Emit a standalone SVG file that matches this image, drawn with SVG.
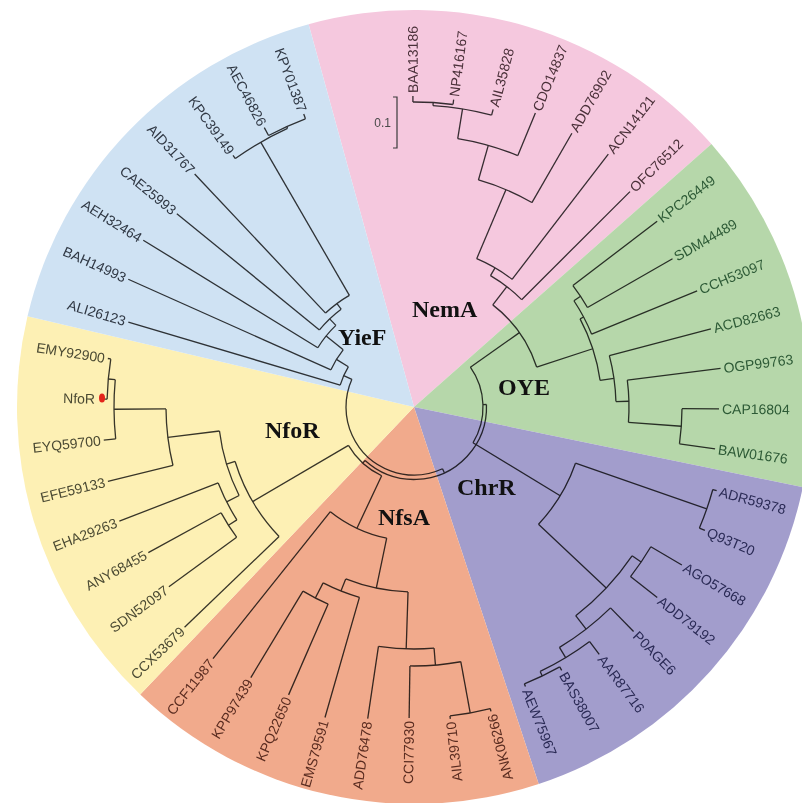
<svg xmlns="http://www.w3.org/2000/svg" width="802" height="803" viewBox="0 0 802 803">
<style>
.tree line,.tree circle{fill:none;stroke:#383838;stroke-width:1.3}
.tree{mix-blend-mode:multiply}
.lab text{font-family:"Liberation Sans",Arial,sans-serif;font-size:14px;dominant-baseline:central}
.lab text.e{text-anchor:end}
.name{font-family:"Liberation Serif","Times New Roman",serif;font-weight:bold;font-size:24px;fill:#111}
</style>
<rect width="802" height="803" fill="#fff"/>
<g id="sectors" transform="translate(414 407)">
<path id="sec-NemA" fill="#f5c8de" d="M0 0L-105.4 -382.7A397 397 0 0 1 297.4 -263Z"/>
<path id="sec-OYE" fill="#b6d7aa" d="M0 0L297.4 -263A397 397 0 0 1 388.8 80.2Z"/>
<path id="sec-ChrR" fill="#a29dcc" d="M0 0L388.8 80.2A397 397 0 0 1 124.7 376.9Z"/>
<path id="sec-NfsA" fill="#f1aa8c" d="M0 0L124.7 376.9A397 397 0 0 1 -273.8 287.5Z"/>
<path id="sec-NfoR" fill="#fdf0b4" d="M0 0L-273.8 287.5A397 397 0 0 1 -386.5 -90.7Z"/>
<path id="sec-YieF" fill="#cfe2f3" d="M0 0L-386.5 -90.7A397 397 0 0 1 -105.4 -382.7Z"/>
</g>
<g id="tree" class="tree" transform="translate(414 407)">
<g id="br-center">
<circle r="69" pathLength="360" stroke-dasharray="66.44 360" transform="rotate(-35.2)"/>
<circle r="76" pathLength="360" stroke-dasharray="34.42 360" transform="rotate(115.2)"/>
<circle r="72.5" pathLength="360" stroke-dasharray="134.39 360" transform="rotate(-1.98)"/>
<circle r="68" pathLength="360" stroke-dasharray="138.82 360" transform="rotate(65.22)"/>
<line x1="69" x2="72.5" transform="rotate(-1.98)"/>
<line x1="72.5" x2="76" transform="rotate(132.41)"/>
<line x1="68" x2="72.5" transform="rotate(65.22)"/>
</g>
<g id="br-NemA">
<circle r="305" pathLength="360" stroke-dasharray="7.55 360" transform="rotate(-90.2)"/>
<circle r="302" pathLength="360" stroke-dasharray="11.29 360" transform="rotate(-86.4)"/>
<circle r="272" pathLength="360" stroke-dasharray="13.19 360" transform="rotate(-80.75)"/>
<circle r="236" pathLength="360" stroke-dasharray="14.13 360" transform="rotate(-74.15)"/>
<circle r="161" pathLength="360" stroke-dasharray="14.61 360" transform="rotate(-67.08)"/>
<circle r="152" pathLength="360" stroke-dasharray="14.86 360" transform="rotate(-59.78)"/>
<circle r="129" pathLength="360" stroke-dasharray="34.3 360" transform="rotate(-52.35)"/>
<line x1="305" x2="311" transform="rotate(-90.2)"/>
<line x1="305" x2="310" transform="rotate(-82.65)"/>
<line x1="302" x2="305" transform="rotate(-86.4)"/>
<line x1="302" x2="308" transform="rotate(-75.11)"/>
<line x1="272" x2="302" transform="rotate(-80.75)"/>
<line x1="272" x2="318" transform="rotate(-67.56)"/>
<line x1="236" x2="272" transform="rotate(-74.15)"/>
<line x1="236" x2="316" transform="rotate(-60.02)"/>
<line x1="161" x2="236" transform="rotate(-67.08)"/>
<line x1="161" x2="319" transform="rotate(-52.47)"/>
<line x1="152" x2="161" transform="rotate(-59.78)"/>
<line x1="152" x2="305" transform="rotate(-44.92)"/>
<line x1="129" x2="152" transform="rotate(-52.35)"/>
<line x1="69" x2="129" transform="rotate(-35.2)"/>
</g>
<g id="br-OYE">
<circle r="200" pathLength="360" stroke-dasharray="7.55 360" transform="rotate(-37.38)"/>
<circle r="192" pathLength="360" stroke-dasharray="11.31 360" transform="rotate(-33.6)"/>
<circle r="268" pathLength="360" stroke-dasharray="7.55 360" transform="rotate(0.35)"/>
<circle r="215" pathLength="360" stroke-dasharray="11.31 360" transform="rotate(-7.19)"/>
<circle r="202" pathLength="360" stroke-dasharray="13.21 360" transform="rotate(-14.74)"/>
<circle r="188" pathLength="360" stroke-dasharray="19.81 360" transform="rotate(-27.95)"/>
<line x1="200" x2="306" transform="rotate(-37.38)"/>
<line x1="200" x2="298" transform="rotate(-29.83)"/>
<line x1="192" x2="200" transform="rotate(-33.6)"/>
<line x1="192" x2="306" transform="rotate(-22.29)"/>
<line x1="268" x2="305" transform="rotate(0.35)"/>
<line x1="268" x2="304" transform="rotate(7.9)"/>
<line x1="215" x2="309" transform="rotate(-7.19)"/>
<line x1="215" x2="268" transform="rotate(4.12)"/>
<line x1="202" x2="307" transform="rotate(-14.74)"/>
<line x1="202" x2="215" transform="rotate(-1.53)"/>
<line x1="188" x2="192" transform="rotate(-27.95)"/>
<line x1="188" x2="202" transform="rotate(-8.14)"/>
<line x1="129" x2="188" transform="rotate(-18.05)"/>
</g>
<g id="br-ChrR">
<circle r="310" pathLength="360" stroke-dasharray="7.55 360" transform="rotate(15.44)"/>
<circle r="275" pathLength="360" stroke-dasharray="7.54 360" transform="rotate(30.54)"/>
<circle r="298" pathLength="360" stroke-dasharray="7.55 360" transform="rotate(60.72)"/>
<circle r="293" pathLength="360" stroke-dasharray="11.33 360" transform="rotate(53.17)"/>
<circle r="281" pathLength="360" stroke-dasharray="13.2 360" transform="rotate(45.63)"/>
<circle r="264" pathLength="360" stroke-dasharray="17.92 360" transform="rotate(34.31)"/>
<circle r="171" pathLength="360" stroke-dasharray="24.07 360" transform="rotate(19.2)"/>
<line x1="310" x2="314" transform="rotate(15.44)"/>
<line x1="310" x2="316" transform="rotate(22.99)"/>
<line x1="275" x2="311" transform="rotate(30.54)"/>
<line x1="275" x2="309" transform="rotate(38.08)"/>
<line x1="298" x2="302" transform="rotate(60.72)"/>
<line x1="298" x2="301" transform="rotate(68.27)"/>
<line x1="293" x2="309" transform="rotate(53.17)"/>
<line x1="293" x2="298" transform="rotate(64.5)"/>
<line x1="281" x2="314" transform="rotate(45.63)"/>
<line x1="281" x2="293" transform="rotate(58.83)"/>
<line x1="264" x2="275" transform="rotate(34.31)"/>
<line x1="264" x2="281" transform="rotate(52.23)"/>
<line x1="171" x2="310" transform="rotate(19.2)"/>
<line x1="171" x2="264" transform="rotate(43.27)"/>
<line x1="69" x2="171" transform="rotate(31.24)"/>
</g>
<g id="br-NfsA">
<circle r="311" pathLength="360" stroke-dasharray="7.55 360" transform="rotate(75.81)"/>
<circle r="259" pathLength="360" stroke-dasharray="11.31 360" transform="rotate(79.59)"/>
<circle r="242" pathLength="360" stroke-dasharray="13.2 360" transform="rotate(85.25)"/>
<circle r="215" pathLength="360" stroke-dasharray="7.55 360" transform="rotate(113.54)"/>
<circle r="198" pathLength="360" stroke-dasharray="11.32 360" transform="rotate(106)"/>
<circle r="185" pathLength="360" stroke-dasharray="19.81 360" transform="rotate(91.85)"/>
<circle r="134" pathLength="360" stroke-dasharray="26.87 360" transform="rotate(101.76)"/>
<line x1="311" x2="314" transform="rotate(75.81)"/>
<line x1="311" x2="314" transform="rotate(83.36)"/>
<line x1="259" x2="311" transform="rotate(90.9)"/>
<line x1="259" x2="311" transform="rotate(79.59)"/>
<line x1="242" x2="315" transform="rotate(98.45)"/>
<line x1="242" x2="259" transform="rotate(85.25)"/>
<line x1="215" x2="314" transform="rotate(113.54)"/>
<line x1="215" x2="316" transform="rotate(121.09)"/>
<line x1="198" x2="323" transform="rotate(106)"/>
<line x1="198" x2="215" transform="rotate(117.32)"/>
<line x1="185" x2="242" transform="rotate(91.85)"/>
<line x1="185" x2="198" transform="rotate(111.66)"/>
<line x1="134" x2="185" transform="rotate(101.76)"/>
<line x1="134" x2="322" transform="rotate(128.63)"/>
<line x1="76" x2="134" transform="rotate(115.2)"/>
</g>
<g id="br-NfoR">
<circle r="220" pathLength="360" stroke-dasharray="7.54 360" transform="rotate(143.73)"/>
<circle r="210" pathLength="360" stroke-dasharray="11.32 360" transform="rotate(147.5)"/>
<circle r="307" pathLength="360" stroke-dasharray="7.54 360" transform="rotate(181.46)"/>
<circle r="300" pathLength="360" stroke-dasharray="11.32 360" transform="rotate(173.91)"/>
<circle r="248" pathLength="360" stroke-dasharray="13.21 360" transform="rotate(166.36)"/>
<circle r="196" pathLength="360" stroke-dasharray="19.81 360" transform="rotate(153.16)"/>
<circle r="187" pathLength="360" stroke-dasharray="26.88 360" transform="rotate(136.18)"/>
<line x1="220" x2="304" transform="rotate(143.73)"/>
<line x1="220" x2="303" transform="rotate(151.27)"/>
<line x1="210" x2="220" transform="rotate(147.5)"/>
<line x1="210" x2="316" transform="rotate(158.82)"/>
<line x1="307" x2="311" transform="rotate(181.46)"/>
<line x1="307" x2="310" transform="rotate(189)"/>
<line x1="300" x2="312" transform="rotate(173.91)"/>
<line x1="300" x2="307" transform="rotate(185.23)"/>
<line x1="248" x2="315" transform="rotate(166.36)"/>
<line x1="248" x2="300" transform="rotate(179.57)"/>
<line x1="196" x2="210" transform="rotate(153.16)"/>
<line x1="196" x2="248" transform="rotate(172.97)"/>
<line x1="187" x2="318" transform="rotate(136.18)"/>
<line x1="187" x2="196" transform="rotate(163.06)"/>
<line x1="76" x2="187" transform="rotate(149.62)"/>
</g>
<g id="br-YieF">
<circle r="308" pathLength="360" stroke-dasharray="7.55 360" transform="rotate(241.82)"/>
<circle r="306" pathLength="360" stroke-dasharray="11.32 360" transform="rotate(234.28)"/>
<circle r="129" pathLength="360" stroke-dasharray="13.21 360" transform="rotate(226.73)"/>
<circle r="122" pathLength="360" stroke-dasharray="14.15 360" transform="rotate(219.19)"/>
<circle r="113" pathLength="360" stroke-dasharray="14.63 360" transform="rotate(211.64)"/>
<circle r="91" pathLength="360" stroke-dasharray="14.87 360" transform="rotate(204.09)"/>
<circle r="77" pathLength="360" stroke-dasharray="14.97 360" transform="rotate(196.55)"/>
<line x1="308" x2="317" transform="rotate(241.82)"/>
<line x1="308" x2="313" transform="rotate(249.37)"/>
<line x1="306" x2="310" transform="rotate(234.28)"/>
<line x1="306" x2="308" transform="rotate(245.6)"/>
<line x1="129" x2="320" transform="rotate(226.73)"/>
<line x1="129" x2="306" transform="rotate(239.94)"/>
<line x1="122" x2="306" transform="rotate(219.19)"/>
<line x1="122" x2="129" transform="rotate(233.34)"/>
<line x1="113" x2="318" transform="rotate(211.64)"/>
<line x1="113" x2="122" transform="rotate(226.27)"/>
<line x1="91" x2="313" transform="rotate(204.09)"/>
<line x1="91" x2="113" transform="rotate(218.96)"/>
<line x1="77" x2="298" transform="rotate(196.55)"/>
<line x1="77" x2="91" transform="rotate(211.52)"/>
<line x1="68" x2="77" transform="rotate(204.04)"/>
</g>
</g>
<g class="lab" transform="translate(414 407)">
<g id="clade-NemA" fill="#4a3039">
<text transform="rotate(-90.2) translate(314)">BAA13186</text>
<text transform="rotate(-82.65) translate(313)">NP416167</text>
<text transform="rotate(-75.11) translate(311)">AIL35828</text>
<text transform="rotate(-67.56) translate(321)">CDO14837</text>
<text transform="rotate(-60.02) translate(319)">ADD76902</text>
<text transform="rotate(-52.47) translate(322)">ACN14121</text>
<text transform="rotate(-44.92) translate(308)">OFC76512</text>
</g>
<g id="clade-OYE" fill="#2d5a36">
<text transform="rotate(-37.38) translate(309)">KPC26449</text>
<text transform="rotate(-29.83) translate(301)">SDM44489</text>
<text transform="rotate(-22.29) translate(309)">CCH53097</text>
<text transform="rotate(-14.74) translate(310)">ACD82663</text>
<text transform="rotate(-7.19) translate(312)">OGP99763</text>
<text transform="rotate(0.35) translate(308)">CAP16804</text>
<text transform="rotate(7.9) translate(307)">BAW01676</text>
</g>
<g id="clade-ChrR" fill="#2a2a55">
<text transform="rotate(15.44) translate(317)">ADR59378</text>
<text transform="rotate(22.99) translate(319)">Q93T20</text>
<text transform="rotate(30.54) translate(314)">AGO57668</text>
<text transform="rotate(38.08) translate(312)">ADD79192</text>
<text transform="rotate(45.63) translate(317)">P0AGE6</text>
<text transform="rotate(53.17) translate(312)">AAR87716</text>
<text transform="rotate(60.72) translate(305)">BAS38007</text>
<text transform="rotate(68.27) translate(304)">AEW75967</text>
</g>
<g id="clade-NfsA" fill="#5a2c20">
<text class="e" transform="rotate(75.81) translate(317) rotate(180)">ANK06266</text>
<text class="e" transform="rotate(83.36) translate(317) rotate(180)">AIL39710</text>
<text class="e" transform="rotate(90.9) translate(314) rotate(180)">CCI77930</text>
<text class="e" transform="rotate(98.45) translate(318) rotate(180)">ADD76478</text>
<text class="e" transform="rotate(106) translate(326) rotate(180)">EMS79591</text>
<text class="e" transform="rotate(113.54) translate(317) rotate(180)">KPQ22650</text>
<text class="e" transform="rotate(121.09) translate(319) rotate(180)">KPP97439</text>
<text class="e" transform="rotate(128.63) translate(325) rotate(180)">CCF11987</text>
</g>
<g id="clade-NfoR" fill="#4b4a33">
<text class="e" transform="rotate(136.18) translate(321) rotate(180)">CCX53679</text>
<text class="e" transform="rotate(143.73) translate(307) rotate(180)">SDN52097</text>
<text class="e" transform="rotate(151.27) translate(306) rotate(180)">ANY68455</text>
<text class="e" transform="rotate(158.82) translate(319) rotate(180)">EHA29263</text>
<text class="e" transform="rotate(166.36) translate(318) rotate(180)">EFE59133</text>
<text class="e" transform="rotate(173.91) translate(315) rotate(180)">EYQ59700</text>
<text class="e" transform="rotate(181.46) translate(319) rotate(180)">NfoR</text>
<text class="e" transform="rotate(189) translate(313) rotate(180)">EMY92900</text>
</g>
<g id="clade-YieF" fill="#303844">
<text class="e" transform="rotate(196.55) translate(301) rotate(180)">ALI26123</text>
<text class="e" transform="rotate(204.09) translate(316) rotate(180)">BAH14993</text>
<text class="e" transform="rotate(211.64) translate(321) rotate(180)">AEH32464</text>
<text class="e" transform="rotate(219.19) translate(309) rotate(180)">CAE25993</text>
<text class="e" transform="rotate(226.73) translate(323) rotate(180)">AID31767</text>
<text class="e" transform="rotate(234.28) translate(313) rotate(180)">KPC39149</text>
<text class="e" transform="rotate(241.82) translate(320) rotate(180)">AEC46826</text>
<text class="e" transform="rotate(249.37) translate(316) rotate(180)">KPY01387</text>
</g>
</g>
<ellipse id="nfor-marker" cx="102" cy="398" rx="3" ry="4.5" fill="#e3241b"/>
<g id="scale">
<path d="M393 97H397V148H393" fill="none" stroke="#3a3a3a" stroke-width="1.2"/>
<text x="391" y="127" text-anchor="end" font-family="Liberation Sans, Arial, sans-serif" font-size="12" fill="#4a4a4a">0.1</text>
</g>
<g id="names">
<text class="name" x="412" y="317">NemA</text>
<text class="name" x="498" y="395">OYE</text>
<text class="name" x="457" y="495">ChrR</text>
<text class="name" x="378" y="525">NfsA</text>
<text class="name" x="265" y="438">NfoR</text>
<text class="name" x="338" y="345">YieF</text>
</g>
</svg>
